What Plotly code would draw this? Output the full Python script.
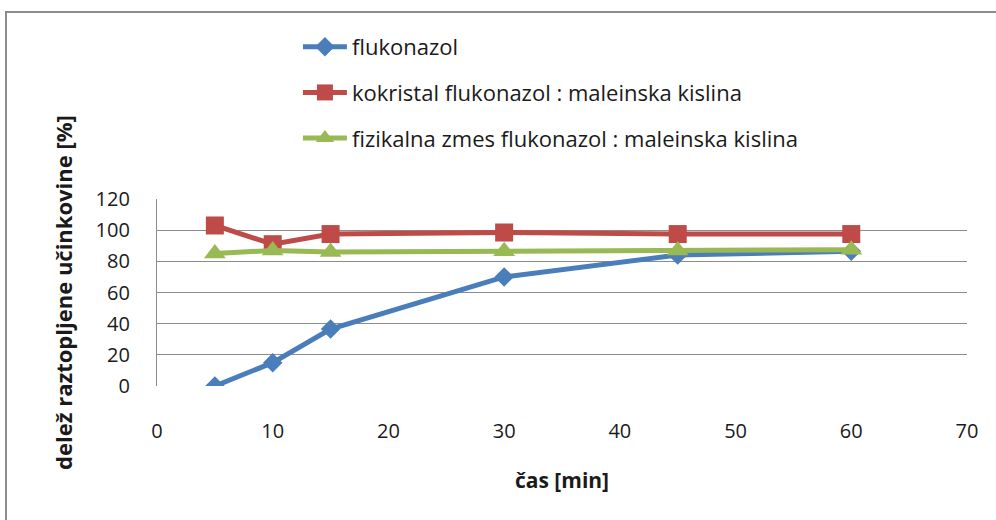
import plotly.graph_objects as go

# Dissolution time points [min]
time_min = [5, 10, 15, 30, 45, 60]

# Fraction of dissolved drug [%]
flukonazol = [0, 15, 36.5, 70, 84, 86.5]
kokristal = [103, 91, 97.5, 98.5, 97.5, 97.5]
fizikalna_zmes = [85, 87, 86, 86.5, 87, 87.5]

series_names = [
    "flukonazol",
    "kokristal flukonazol : maleinska kislina",
    "fizikalna zmes flukonazol : maleinska kislina",
]
x_ticks = [0, 10, 20, 30, 40, 50, 60, 70]
y_ticks = [0, 20, 40, 60, 80, 100, 120]

FONT = "Open Sans"
TEXT = "#1a1a1a"

fig = go.Figure()

styles = [
    dict(color="#4A7EBB", symbol="diamond", size=15),
    dict(color="#BE4B48", symbol="square", size=18),
    dict(color="#98B954", symbol="triangle-up", size=19),
]

for i, (name, vals, st) in enumerate(zip(series_names, [flukonazol, kokristal, fizikalna_zmes], styles)):
    fig.add_trace(go.Scatter(
        x=time_min, y=vals, name=name, mode="lines+markers",
        legendgroup=f"g{i}",
        line=dict(color=st["color"], width=5),
        marker=dict(symbol=st["symbol"], size=st["size"], color=st["color"],
                    line=dict(width=0)),
    ))

fig.update_layout(
    width=996, height=520,
    margin=dict(l=157, r=29, t=199, b=134),
    paper_bgcolor="white", plot_bgcolor="white",
    font=dict(family=FONT, size=20, color=TEXT),
    showlegend=True,
    legend=dict(
        x=0.174, y=1.925, xanchor="left", yanchor="top",
        font=dict(family=FONT, size=22, color=TEXT),
        tracegroupgap=14, bgcolor="rgba(0,0,0,0)", itemwidth=44,
    ),
    xaxis=dict(
        range=[0, 70], tickvals=x_ticks, showgrid=False, zeroline=False,
        showline=False, ticks="", ticklabelstandoff=31,
        tickfont=dict(size=20),
        title=dict(text="<b>čas [min]</b>", font=dict(size=21), standoff=30),
    ),
    yaxis=dict(
        range=[0, 120], tickvals=y_ticks, showgrid=True, gridcolor="#8c8c8c",
        gridwidth=1.2, zeroline=False, showline=True, linecolor="#8c8c8c",
        linewidth=1.2, ticks="", ticklabelstandoff=22,
        tickfont=dict(size=20),
        title=dict(text="<b>delež raztopljene učinkovine [%]</b>", font=dict(size=22), standoff=16),
    ),
    shapes=[dict(
        type="rect", xref="paper", yref="paper",
        x0=(6 - 157) / 810, x1=(1010 - 157) / 810,
        y0=(386 - 540) / 187, y1=(386 - 12) / 187,
        line=dict(color="#8c8c8c", width=2), fillcolor="rgba(0,0,0,0)", layer="below",
    )],
)

fig.write_html("out.html")
